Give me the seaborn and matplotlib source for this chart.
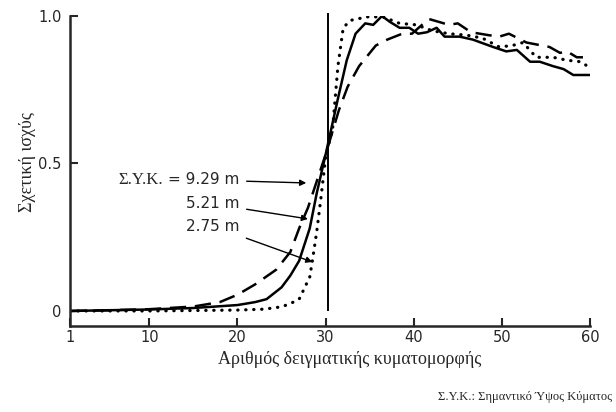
import matplotlib
matplotlib.use("Agg")
import matplotlib.pyplot as plt
import seaborn as sns

# Dashed curve: Σ.Υ.Κ. = 9.29 m
x_929 = [1, 5, 10, 15, 18, 20, 22, 24.4, 26, 27, 28, 29, 30, 31.5, 32.5, 33.8,
         35.7, 37, 38.7, 39.8, 41.7, 44, 45, 46.5, 48.5, 49.7, 50.8, 52.8, 55.4,
         56.6, 57.4, 58.5, 59.2]
y_929 = [0.0, 0.002, 0.006, 0.015, 0.03, 0.055, 0.09, 0.14, 0.2, 0.28, 0.35,
         0.44, 0.53, 0.68, 0.76, 0.83, 0.90, 0.92, 0.94, 0.94, 0.99, 0.97, 0.975,
         0.945, 0.935, 0.93, 0.94, 0.91, 0.895, 0.875, 0.88, 0.86, 0.86]

# Solid curve: 5.21 m
x_521 = [1, 10, 15, 20, 22, 23.3, 25, 26, 27, 28.2, 29, 30, 31.4, 32.4, 33.4,
         34.5, 35.4, 36.4, 37.3, 38.4, 39.5, 40.5, 41.5, 42.6, 43.5, 45.2, 46.7,
         49, 50.5, 51.7, 53.2, 54.3, 55.8, 57, 58.1, 60]
y_521 = [0.0, 0.005, 0.01, 0.02, 0.03, 0.04, 0.08, 0.12, 0.17, 0.28, 0.40, 0.53,
         0.72, 0.85, 0.94, 0.975, 0.97, 1.0, 0.98, 0.96, 0.96, 0.94, 0.945, 0.96,
         0.93, 0.93, 0.92, 0.895, 0.88, 0.885, 0.845, 0.845, 0.83, 0.82, 0.80, 0.80]

# Dotted curve: 2.75 m
x_275 = [1, 10, 20, 23, 25, 26, 27, 28.2, 28.5, 29, 29.5, 30, 30.8, 31.4, 32,
         32.8, 34.7, 36.5, 38.4, 40.3, 42.1, 44, 46, 47.8, 49.7, 51.2, 52.4, 53.9,
         55.8, 57.4, 58.9, 60]
y_275 = [0.0, 0.0, 0.003, 0.006, 0.014, 0.025, 0.04, 0.115, 0.17, 0.27, 0.39,
         0.52, 0.62, 0.83, 0.96, 0.985, 0.997, 0.997, 0.975, 0.97, 0.95, 0.94,
         0.935, 0.925, 0.895, 0.90, 0.91, 0.86, 0.86, 0.85, 0.845, 0.825]

x_ticks = [1, 10, 20, 30, 40, 50, 60]
y_ticks = [0, 0.5, 1.0]
y_tick_labels = ["0", "0.5", "1.0"]
x_marker = 30.3

sns.set_style("ticks")
plt.rcParams["font.family"] = ["DejaVu Sans"]

fig = plt.figure(figsize=(6.16, 4.12), dpi=100)
ax = fig.add_axes([70 / 616, 1 - 326 / 412, 520 / 616, 310 / 412])

sns.lineplot(x=x_929, y=y_929, ax=ax, color="black", lw=1.8,
             linestyle=(0, (6.5, 3.5)), sort=False)
sns.lineplot(x=x_521, y=y_521, ax=ax, color="black", lw=1.8, sort=False)
sns.lineplot(x=x_275, y=y_275, ax=ax, color="black", lw=2.3,
             linestyle=(0, (0.1, 2.4)), dash_capstyle="round", sort=False)

ax.vlines(x_marker, 0, 1.01, color="black", lw=1.4, clip_on=False)

ax.set_xlim(1, 60)
ax.set_ylim(-0.051, 1.0)
ax.set_xticks(x_ticks)
ax.set_yticks(y_ticks)
ax.set_yticklabels(y_tick_labels)
ax.tick_params(direction="in", length=6, width=1.5, labelsize=10.5, pad=6)
ax.tick_params(axis="x", pad=3)
for s in ["top", "right"]:
    ax.spines[s].set_visible(False)
for s in ["left", "bottom"]:
    ax.spines[s].set_linewidth(1.8)

serif = ["Liberation Serif", "DejaVu Serif"]
ax.set_xlabel("Αριθμός δειγματικής κυματομορφής", family=serif, fontsize=13)
ax.set_ylabel("Σχετική ισχύς", family=serif, fontsize=13)
ax.xaxis.set_label_coords(0.537, -0.08)
ax.yaxis.set_label_coords(-0.066, 0.529)

# annotations
arrow = dict(arrowstyle="-|>", lw=1.0, color="black", mutation_scale=9,
             shrinkA=3, shrinkB=0)
ax.text(11.6, 0.444, "Σ.Υ.Κ.", family=serif, fontsize=12, ha="right", va="center")
ax.annotate("= 9.29 m", xy=(27.8, 0.434), xytext=(20.2, 0.444), fontsize=11,
            ha="right", va="center", arrowprops=arrow)
ax.annotate("5.21 m", xy=(28.0, 0.312), xytext=(20.2, 0.363), fontsize=11,
            ha="right", va="center", arrowprops=arrow)
ax.annotate("2.75 m", xy=(28.5, 0.166), xytext=(20.2, 0.288), fontsize=11,
            ha="right", va="center", arrowprops=arrow)

fig.text(612 / 616, 1 - 397 / 412, "Σ.Υ.Κ.: Σημαντικό Ύψος Κύματος",
         family=serif, fontsize=9, ha="right", va="center")

fig.savefig("out.png", dpi=100)
